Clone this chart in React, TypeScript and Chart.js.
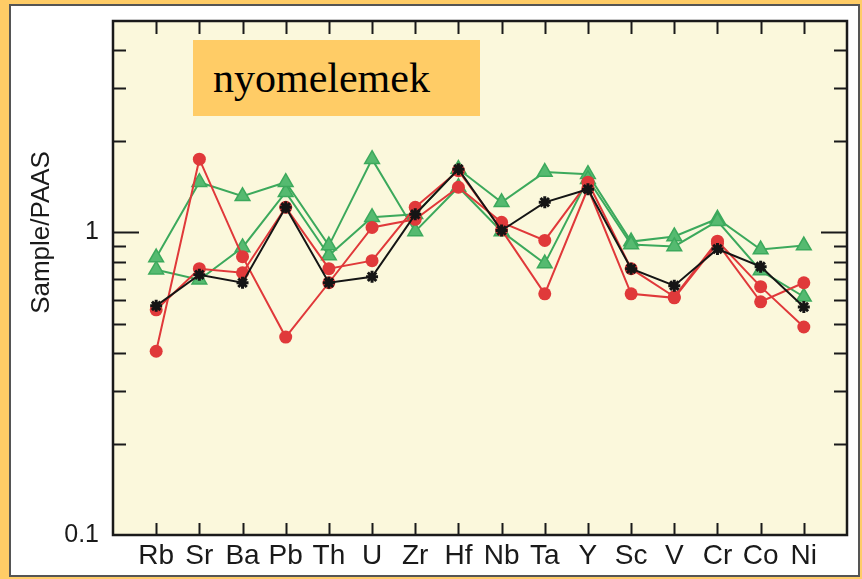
import React, { useEffect, useRef } from 'react';
import { Chart, registerables } from 'chart.js';

Chart.register(...registerables);

const ELEMENTS = ['Rb', 'Sr', 'Ba', 'Pb', 'Th', 'U', 'Zr', 'Hf', 'Nb', 'Ta', 'Y', 'Sc', 'V', 'Cr', 'Co', 'Ni'];
const Y_TICK_LABELS = [0.1, 1];
const Y_MINOR_TICKS = [0.2, 0.3, 0.4, 0.5, 0.6, 0.7, 0.8, 0.9, 1, 2, 3, 4];
const Y_TITLE = 'Sample/PAAS';
const Y_MIN = 0.1;
const Y_MAX = 5;

const BLACK_SERIES = [0.572, 0.725, 0.682, 1.211, 0.682, 0.714, 1.148, 1.619, 1.015, 1.258, 1.389, 0.759, 0.667, 0.882, 0.771, 0.567];
const RED_A = [0.405, 1.747, 0.832, 0.451, 0.682, 1.039, 1.105, 1.411, 1.08, 0.941, 1.466, 0.759, 0.613, 0.936, 0.662, 0.487];
const RED_B = [0.555, 0.759, 0.736, 1.211, 0.759, 0.807, 1.211, 1.6, 1.02, 0.627, 1.4, 0.627, 0.608, 0.92, 0.59, 0.682];
const GREEN_A = [0.826, 1.466, 1.317, 1.466, 0.905, 1.747, 1.008, 1.411, 1.008, 0.789, 1.5, 0.912, 0.899, 1.09, 0.748, 0.613];
const GREEN_B = [0.753, 0.698, 0.892, 1.358, 0.839, 1.122, 1.148, 1.62, 1.258, 1.583, 1.558, 0.933, 0.97, 1.11, 0.878, 0.905];

const GREEN = '#3CA95C';
const GREEN_FILL = '#55BA70';
const RED = '#E0393A';
const BLACK = '#151515';

const pad = (arr: number[]) => [null, ...arr, null];

const framePlugin = {
  id: 'frame',
  beforeDraw(chart: any) {
    const { ctx, chartArea } = chart;
    ctx.save();
    ctx.fillStyle = '#FBF8DC';
    ctx.fillRect(chartArea.left, chartArea.top, chartArea.right - chartArea.left, chartArea.bottom - chartArea.top);
    ctx.restore();
  },
  afterDraw(chart: any) {
    const { ctx, chartArea } = chart;
    const { left, right, top, bottom } = chartArea;
    const x = chart.scales.x;
    const y = chart.scales.y;
    ctx.save();
    ctx.strokeStyle = '#1a1a1a';
    ctx.lineWidth = 2;
    ctx.beginPath();
    Y_MINOR_TICKS.forEach((v) => {
      const yy = Math.round(y.getPixelForValue(v)) + 0.5;
      const major = Math.abs(v - 1) < 1e-9;
      const len = major ? 26 : 13;
      ctx.moveTo(left, yy);
      ctx.lineTo(left + len, yy);
      ctx.moveTo(right, yy);
      ctx.lineTo(right - len, yy);
    });
    for (let i = 1; i <= ELEMENTS.length; i++) {
      const xx = Math.round(x.getPixelForValue(i)) + 0.5;
      ctx.moveTo(xx, bottom);
      ctx.lineTo(xx, bottom - 12);
      ctx.moveTo(xx, top);
      ctx.lineTo(xx, top + 13);
    }
    ctx.stroke();
    ctx.lineWidth = 2.5;
    ctx.strokeRect(left, top, right - left, bottom - top);

    const yc = y.getPixelForValue(1);
    ctx.translate(42, yc);
    ctx.rotate(-Math.PI / 2);
    ctx.fillStyle = '#1a1a1a';
    ctx.font = "26px 'Liberation Sans', Arial, sans-serif";
    ctx.textAlign = 'center';
    ctx.textBaseline = 'middle';
    ctx.fillText(Y_TITLE, 0, 0);
    ctx.restore();
  },
};

export default function App() {
  const canvasRef = useRef<HTMLCanvasElement | null>(null);

  useEffect(() => {
    if (!canvasRef.current) return;
    const chart = new Chart(canvasRef.current, {
      type: 'line',
      data: {
        labels: ['', ...ELEMENTS, ''],
        datasets: [
          {
            data: pad(BLACK_SERIES),
            borderColor: BLACK,
            backgroundColor: BLACK,
            borderWidth: 2,
            pointStyle: 'star',
            pointRadius: 6,
            pointBorderWidth: 3,
            pointBorderColor: BLACK,
          },
          {
            data: pad(RED_A),
            borderColor: RED,
            backgroundColor: RED,
            borderWidth: 2,
            pointStyle: 'circle',
            pointRadius: 6.5,
            pointBorderWidth: 0,
          },
          {
            data: pad(RED_B),
            borderColor: RED,
            backgroundColor: RED,
            borderWidth: 2,
            pointStyle: 'circle',
            pointRadius: 6.5,
            pointBorderWidth: 0,
          },
          {
            data: pad(GREEN_A),
            borderColor: GREEN,
            backgroundColor: GREEN_FILL,
            borderWidth: 2,
            pointStyle: 'triangle',
            pointRadius: 8.5,
            pointBorderWidth: 1.5,
            pointBorderColor: GREEN,
          },
          {
            data: pad(GREEN_B),
            borderColor: GREEN,
            backgroundColor: GREEN_FILL,
            borderWidth: 2,
            pointStyle: 'triangle',
            pointRadius: 8.5,
            pointBorderWidth: 1.5,
            pointBorderColor: GREEN,
          },
        ] as any,
      },
      options: {
        animation: false,
        responsive: false,
        maintainAspectRatio: false,
        layout: { padding: { top: 21, right: 15, left: 0, bottom: 0 } },
        plugins: { legend: { display: false }, tooltip: { enabled: false } },
        elements: { line: { tension: 0 } },
        scales: {
          x: {
            type: 'category',
            offset: false,
            grid: { display: false, drawTicks: false },
            border: { display: false },
            ticks: {
              autoSkip: false,
              maxRotation: 0,
              padding: 4,
              color: '#1a1a1a',
              font: { family: "'Liberation Sans Narrow', 'Liberation Sans', Arial, sans-serif", size: 28 },
              callback: function (this: any, value: any) {
                const lbl = this.getLabelForValue(value);
                return lbl === '' ? null : lbl;
              },
            },
            afterFit(scale: any) {
              scale.height = 44;
              scale.paddingLeft = 0;
              scale.paddingRight = 0;
            },
          },
          y: {
            type: 'logarithmic',
            min: Y_MIN,
            max: Y_MAX,
            grid: { display: false, drawTicks: false },
            border: { display: false },
            title: { display: false },
            ticks: {
              autoSkip: false,
              padding: 14,
              color: '#1a1a1a',
              font: { family: "'Liberation Sans', Arial, sans-serif", size: 25 },
              callback: (value: any) => {
                const v = Number(value);
                const hit = Y_TICK_LABELS.find((t) => Math.abs(t - v) < 1e-9);
                return hit !== undefined ? String(hit) : null;
              },
            },
            afterFit(scale: any) {
              scale.width = 113;
              scale.paddingTop = 0;
              scale.paddingBottom = 0;
            },
          },
        },
      } as any,
      plugins: [framePlugin],
    });
    return () => chart.destroy();
  }, []);

  return (
    <div style={{ position: 'fixed', left: 0, top: 0, width: 862, height: 579, background: '#FFCC66', overflow: 'hidden' }}>
      <div
        style={{
          position: 'absolute',
          left: 9,
          top: 4,
          width: 851,
          height: 573,
          boxSizing: 'border-box',
          background: '#FFFFFF',
          border: '2px solid #555555',
        }}
      />
      <canvas ref={canvasRef} width={862} height={579} style={{ position: 'absolute', left: 0, top: 0, width: 862, height: 579 }} />
      <div
        style={{
          position: 'absolute',
          left: 193,
          top: 40,
          width: 287,
          height: 76,
          background: '#FFCC66',
          fontFamily: "'Liberation Serif', 'Times New Roman', serif",
          fontSize: 42,
          lineHeight: '76px',
          paddingLeft: 20,
          boxSizing: 'border-box',
          color: '#000',
        }}
      >
        nyomelemek
      </div>
    </div>
  );
}
